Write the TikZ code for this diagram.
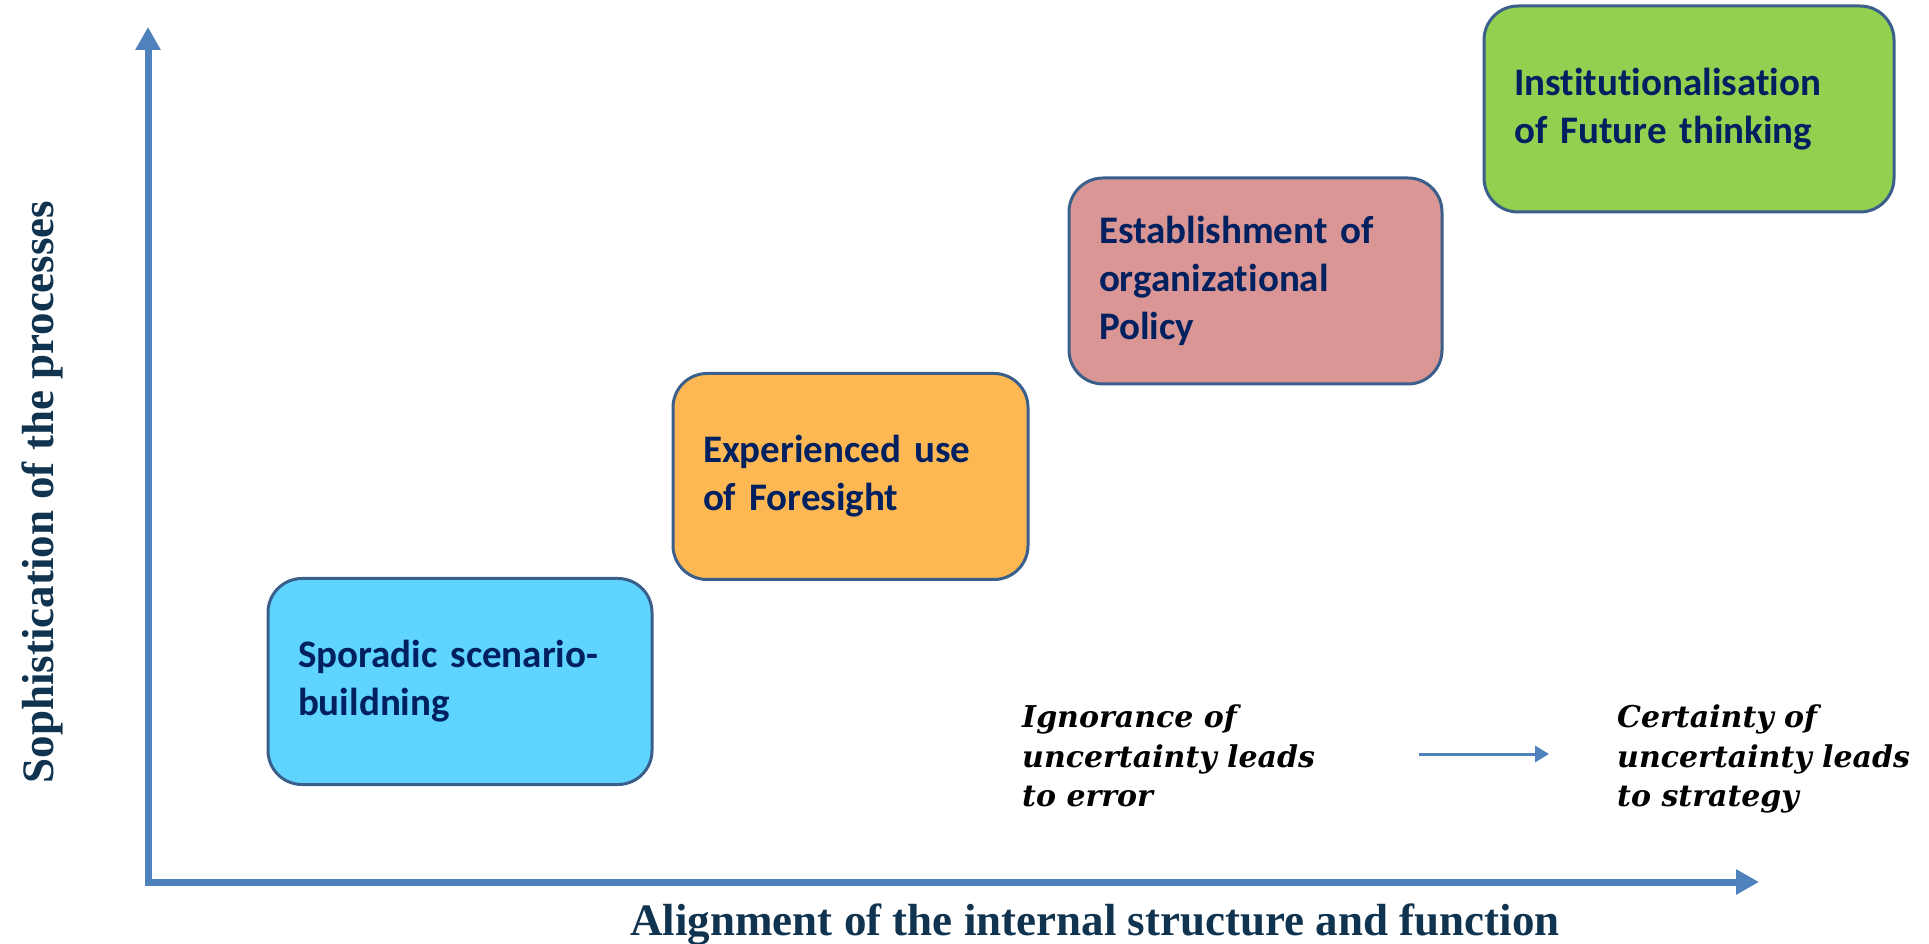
\documentclass[tikz,border=0pt]{standalone}
\usepackage{fontspec}
\setmainfont{Liberation Serif}
\newfontfamily\boxfont[Ligatures=NoCommon]{Carlito}
\newfontfamily\notefont{DejaVu Serif}
\usetikzlibrary{arrows.meta}

\definecolor{axisblue}{HTML}{4F81BD}
\definecolor{edgeblue}{HTML}{3A5F8B}
\definecolor{navytext}{HTML}{002060}
\definecolor{labeltext}{HTML}{10334F}
\definecolor{skyfill}{HTML}{5ED4FF}
\definecolor{orangefill}{HTML}{FDB853}
\definecolor{rosefill}{HTML}{D99694}
\definecolor{greenfill}{HTML}{92D050}

\begin{document}
\begin{tikzpicture}[
    x=1pt, y=1pt,
    stage/.style={draw=edgeblue, line width=3pt, rounded corners=34pt, minimum height=206pt, inner xsep=30pt, align=left, text=navytext, font=\boxfont\bfseries\fontsize{39}{48}\selectfont},
    axis/.style={draw=axisblue, line width=7pt, {Triangle[length=23pt,width=24pt]}-{Triangle[length=23pt,width=24pt]}},
    axislabel/.style={text=labeltext, font=\bfseries\fontsize{45}{54}\selectfont},
    note/.style={align=left, inner sep=0pt, font=\notefont\bfseries\itshape\fontsize{30}{39.5}\selectfont},
    lead/.style={draw=axisblue, line width=3pt, -{Triangle[length=14pt,width=16pt]}}
]
\useasboundingbox (0,0) rectangle (1929,943);

% axes
\coordinate (origin) at (148,61);
\coordinate (ytop) at (148,916);
\coordinate (xend) at (1759,61);
\draw[axis] (ytop) -- (origin) -- (xend);

\node[axislabel, rotate=90] (ylabel) at (42,451) {Sophistication of the processes};
\node[axislabel, anchor=base] (xlabel) at (1095,8) {Alignment of the internal structure and function};

% stages
\node[stage, fill=skyfill, text width=324pt] (sporadic) at (460,261.5) {Sporadic scenario-\\buildning};
\node[stage, fill=orangefill, text width=295pt] (experienced) at (850.5,466.5) {Experienced use\\of Foresight};
\node[stage, fill=rosefill, text width=313pt] (establish) at (1255.5,662) {Establishment of\\organizational\\Policy};
\node[stage, fill=greenfill, text width=350pt] (institution) at (1689,834) {Institutionalisation\\of Future thinking};

% notes
\node[note, anchor=north west] (ignorance) at (1022,238) {Ignorance of\\uncertainty leads\\to error};
\node[note, anchor=north west] (certainty) at (1617,238) {Certainty of\\uncertainty leads\\to strategy};
\coordinate (leadfrom) at (1419,189);
\coordinate (leadto) at (1549,189);
\draw[lead] (leadfrom) -- (leadto);

\end{tikzpicture}
\end{document}
